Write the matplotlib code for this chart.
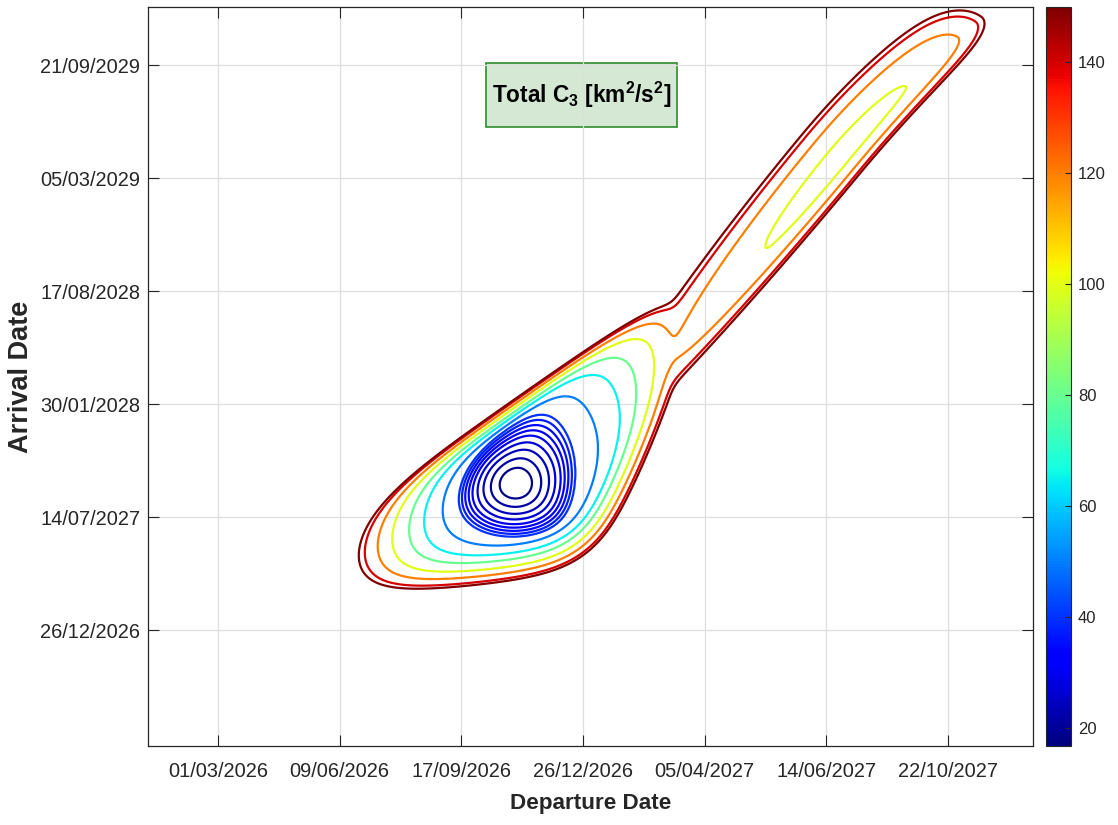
"""
Porkchop contour of total C3 for the 2026-2027 departure window.

    python plot.py   -> out.png
"""
import numpy as np
import matplotlib
matplotlib.use("Agg")
import matplotlib.pyplot as plt
from matplotlib.colors import Normalize
from matplotlib.cm import ScalarMappable
from matplotlib.patches import Rectangle

# departure axis: days after 01/03/2026, arrival axis: days after 26/12/2026
DEP_TICKS = [0, 100, 200, 300, 400, 500, 600]
DEP_LABELS = ["01/03/2026", "09/06/2026", "17/09/2026", "26/12/2026",
              "05/04/2027", "14/06/2027", "22/10/2027"]
ARR_TICKS = [0, 200, 400, 600, 800, 1000]
ARR_LABELS = ["26/12/2026", "14/07/2027", "30/01/2028", "17/08/2028",
              "05/03/2029", "21/09/2029"]
DEP_LIM = (-57.5, 670)
ARR_LIM = (-205, 1103)

C3_LEVELS = [18.5, 21, 24, 27, 30, 32.5, 35, 37.5, 40, 50, 65, 80, 100, 120, 140, 150]
C3_RANGE = (16.8, 150.0)
CBAR_TICKS = [20, 40, 60, 80, 100, 120, 140]

# short-transfer basin, (dep/100, arr/200) units around its minimum.
# bounding lines by outward normal (deg): offset of the C3=40 and C3=150 lines
SHORT_CENTER = (244.7, 259.6)
WALL_ANG = [-21.6, 0, 30, 60, 127, 160, 180, 210, 240, 277, 310]
H40 = [0.60, 0.53, 0.70, 0.75, 0.43, 0.46, 0.60, 0.68, 0.56, 0.50, 0.60]
H150 = [0.92, 2.3, 2.7, 2.6, 0.60, 1.15, 1.7, 2.35, 1.85, 0.86, 1.08]
WALL_P = 5

# long-transfer valley: minimum location, valley direction, floor value
LONG_CENTER = (510.7, 831.6)
LONG_AXIS = (0.61, 0.79)
LONG_MIN = 95.0
LONG_WALLS = (380.0, 1300.0)        # left / right side stiffness
LONG_BEND = 0.05

FG = "#262626"


def gauge(walls, h):
    acc = 0.0
    for L, hi in zip(walls, h):
        acc = acc + np.clip(L / hi, 0, None) ** WALL_P
    return acc ** (1 / WALL_P)


def c3_grid(dep, arr):
    u = (dep - SHORT_CENTER[0]) / 100
    v = (arr - SHORT_CENTER[1]) / 200
    walls = [np.cos(np.radians(a)) * u + np.sin(np.radians(a)) * v for a in WALL_ANG]

    # inside the C3=40 line: round near the minimum, wall-shaped further out
    g = gauge(walls, H40)
    b = np.clip(g, 0, 1)
    rho = (1 - b) * np.hypot(u, v) / 0.5 + b * g
    inner = C3_RANGE[0] + (40 - C3_RANGE[0]) * rho ** 2

    # outside: find lam with the point on the line set H40 + lam * (H150 - H40)
    lo = np.zeros_like(u)
    hi = np.full_like(u, 30.0)
    for _ in range(32):
        lam = 0.5 * (lo + hi)
        inside = gauge(walls, [a + lam * (c - a) for a, c in zip(H40, H150)]) <= 1
        hi = np.where(inside, lam, hi)
        lo = np.where(inside, lo, lam)
    lam = 0.5 * (lo + hi)
    outer = 40 + 110 * (0.5 * lam + 0.5 * lam ** 2)
    short = np.where(g > 1, outer, inner)

    du = (dep - LONG_CENTER[0]) / 100
    dv = (arr - LONG_CENTER[1]) / 200
    sl = LONG_AXIS[0] * du + LONG_AXIS[1] * dv
    w = LONG_AXIS[1] * du - LONG_AXIS[0] * dv - LONG_BEND * np.clip(sl, 0, None) ** 2
    long_ = (LONG_MIN + 5.2 * sl ** 2 + 25 * np.exp((sl - 1.6) / 0.25)
             + np.where(w < 0, *LONG_WALLS) * w ** 2)

    # smooth minimum of the two transfer families
    return -7 * np.logaddexp(-short / 7, -long_ / 7)


plt.rcParams["font.family"] = ["Liberation Sans", "DejaVu Sans"]
plt.rcParams["mathtext.default"] = "regular"

dep = np.linspace(*DEP_LIM, 760)
arr = np.linspace(*ARR_LIM, 760)
D, A = np.meshgrid(dep, arr)
C = c3_grid(D, A)
norm = Normalize(*C3_RANGE)

fig = plt.figure(figsize=(11.18, 8.25), dpi=100)
ax = fig.add_axes([0.1324, 0.0958, 0.7916, 0.8958])
cax = fig.add_axes([0.9356, 0.0958, 0.0224, 0.8958])

ax.contour(D, A, C, levels=C3_LEVELS, cmap="jet", norm=norm, linewidths=1.6)

ax.set_xlim(DEP_LIM)
ax.set_ylim(ARR_LIM)
ax.set_xticks(DEP_TICKS, DEP_LABELS)
ax.set_yticks(ARR_TICKS, ARR_LABELS)
ax.grid(True, color="#dedede", lw=0.9)
ax.set_axisbelow(True)
ax.tick_params(direction="in", top=True, right=True, length=8, width=0.8,
               labelsize=14.4, colors=FG)
ax.tick_params(axis="x", pad=11.5)
ax.tick_params(axis="y", pad=5.5)
for sp in ax.spines.values():
    sp.set_color(FG)
    sp.set_linewidth(0.9)

ax.set_xlabel("Departure Date", fontsize=16.2, fontweight="bold", color=FG)
ax.xaxis.set_label_coords(0.5, -0.0636)
ax.set_ylabel("Arrival Date", fontsize=19.5, fontweight="bold", color=FG)
ax.yaxis.set_label_coords(-0.129, 0.5)

ax.add_patch(Rectangle((0.3819, 0.8376), 0.2158, 0.0866, transform=ax.transAxes,
                       fc="#d5e8d4", ec="#2e8b2e", lw=1.2, zorder=0.4))
ax.text(0.4898, 0.881, r"Total C$_3$ [km$^2$/s$^2$]", transform=ax.transAxes,
        ha="center", va="center", fontsize=16.3, fontweight="bold", color="black",
        zorder=5)

cb = fig.colorbar(ScalarMappable(norm=norm, cmap="jet"), cax=cax, ticks=CBAR_TICKS)
cb.outline.set_edgecolor(FG)
cb.outline.set_linewidth(0.8)
cax.tick_params(direction="in", length=4, width=0.8, labelsize=12, colors=FG, pad=5)

fig.savefig("out.png", dpi=100)
